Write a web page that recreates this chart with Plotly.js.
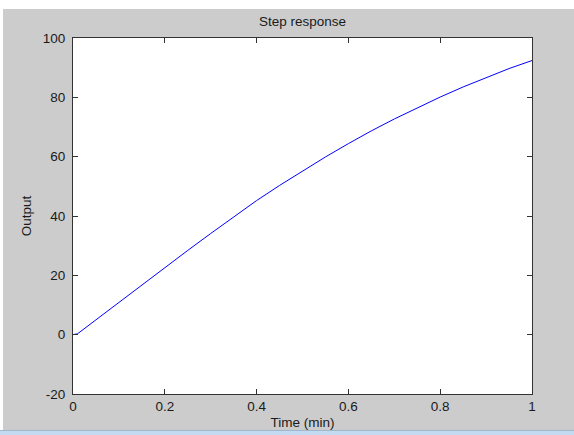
<!DOCTYPE html>
<html>
<head>
<meta charset="utf-8">
<script src="https://cdn.plot.ly/plotly-3.0.1.min.js"></script>
<style>
  html, body { margin: 0; padding: 0; background: #ffffff; width: 574px; height: 435px; overflow: hidden; }
  #chart { position: absolute; left: 3px; top: 9px; width: 571px; height: 421px; }
  #bar1 { position: absolute; left: 0; top: 430px; width: 574px; height: 1px; background: #9fb6cc; }
  #bar2 { position: absolute; left: 0; top: 431px; width: 574px; height: 4px; background: #c3daf0; }
</style>
</head>
<body>
<div id="chart"></div>
<div id="bar1"></div>
<div id="bar2"></div>
<script>
// Data
const timeMin = [0, 0.01, 0.05, 0.10, 0.15, 0.20, 0.25, 0.30, 0.35, 0.40, 0.45, 0.50, 0.55, 0.60, 0.65, 0.70, 0.75, 0.80, 0.85, 0.90, 0.95, 1.00];
const output  = [0, 0.3, 5.0, 10.9, 16.7, 22.5, 28.4, 34.1, 39.7, 45.2, 50.3, 55.2, 59.9, 64.4, 68.7, 72.7, 76.5, 80.1, 83.5, 86.7, 89.7, 92.4];
const xTicks = [0, 0.2, 0.4, 0.6, 0.8, 1];
const xTickText = ['0', '0.2', '0.4', '0.6', '0.8', '1'];
const yTicks = [-20, 0, 20, 40, 60, 80, 100];
const yTickText = ['-20', '0', '20', '40', '60', '80', '100'];

const font = { family: 'Liberation Sans, Arial, sans-serif', size: 13.5, color: '#1a1a1a' };

const trace = {
  x: timeMin,
  y: output,
  type: 'scatter',
  mode: 'lines',
  line: { color: '#0000ff', width: 1 },
  hoverinfo: 'skip'
};

const axisCommon = {
  showgrid: false,
  zeroline: false,
  showline: true,
  mirror: 'ticks',
  linecolor: '#333333',
  linewidth: 1,
  ticks: 'inside',
  ticklen: 5,
  tickcolor: '#333333',
  tickfont: font
};

const layout = {
  width: 571,
  height: 421,
  paper_bgcolor: '#cccccc',
  plot_bgcolor: '#ffffff',
  margin: { l: 70, r: 42, t: 29, b: 36 },
  showlegend: false,
  font: font,
  title: {
    text: 'Step response',
    font: font,
    x: 0.5, xref: 'paper', xanchor: 'center',
    y: 1, yref: 'paper', yanchor: 'bottom', pad: { b: 12 }
  },
  xaxis: Object.assign({}, axisCommon, {
    range: [0, 1],
    tickvals: xTicks,
    ticktext: xTickText,
    ticklabelstandoff: 0,
    title: { text: 'Time (min)', font: font, standoff: 5 }
  }),
  yaxis: Object.assign({}, axisCommon, {
    range: [-20, 100],
    tickvals: yTicks,
    ticktext: yTickText,
    ticklabelstandoff: 4,
    title: { text: 'Output', font: font, standoff: 8 }
  })
};

Plotly.newPlot('chart', [trace], layout, { staticPlot: true, displayModeBar: false });
</script>
</body>
</html>
